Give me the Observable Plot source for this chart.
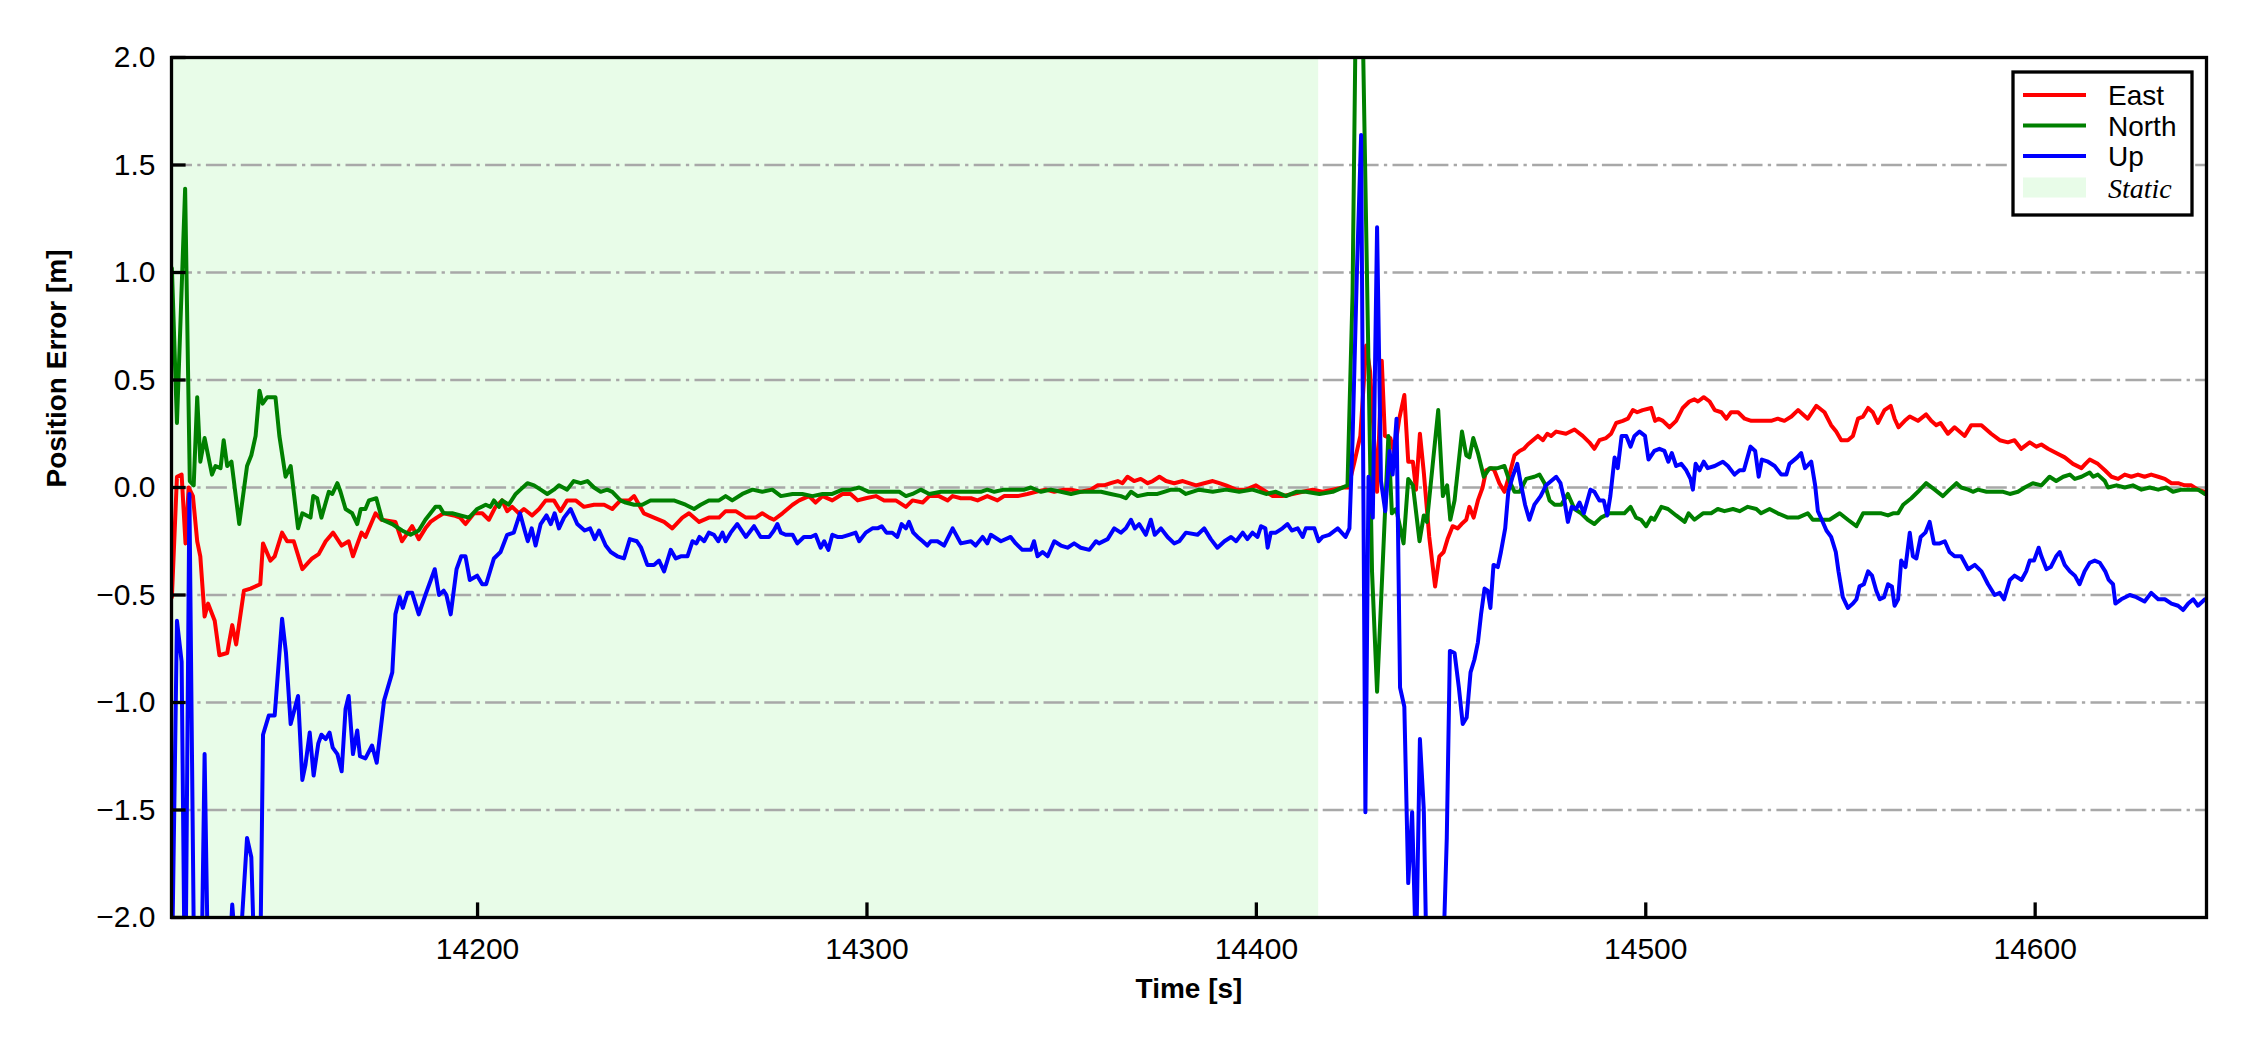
<!DOCTYPE html>
<html>
<head>
<meta charset="utf-8">
<script src="https://cdn.jsdelivr.net/npm/d3@7"></script>
<script src="https://cdn.jsdelivr.net/npm/@observablehq/plot@0.6"></script>
<style>
  html, body { margin: 0; padding: 0; background: #ffffff; }
  #chart { width: 2250px; height: 1050px; }
</style>
</head>
<body>
<div id="chart"></div>
<script>
// ---------------- data ----------------
const xDomain = [14121.4, 14644.0];
const yDomain = [-2, 2];
const xTicks = [14200, 14300, 14400, 14500, 14600];
const yTicks = [2.0, 1.5, 1.0, 0.5, 0.0, -0.5, -1.0, -1.5, -2.0];
const staticRegion = [{start: 14121.4, end: 14416.0}];
const legendLabels = ["East", "North", "Up", "Static"];
const seriesColors = ["#ff0000", "#008000", "#0000ff"];
const staticColor = "#e8fce8";

// [time s, error m]
const east = [
[14121.5,-0.51],[14122.8,0.05],[14124.0,0.06],[14125.0,-0.26],[14125.8,0.0],[14126.9,-0.04],[14128.0,-0.25],[14128.8,-0.32],[14129.9,-0.60],[14130.8,-0.54],[14132.5,-0.62],[14133.7,-0.78],[14135.7,-0.77],[14137.0,-0.64],[14138.0,-0.73],[14140.0,-0.48],[14141.7,-0.47],[14144.2,-0.45],[14144.9,-0.26],[14146.8,-0.34],[14147.9,-0.32],[14149.8,-0.21],[14151.1,-0.25],[14152.8,-0.25],[14155.0,-0.38],[14157.5,-0.33],[14159.2,-0.31],[14161.0,-0.25],[14162.9,-0.21],[14165.1,-0.27],[14166.9,-0.25],[14168.0,-0.32],[14170.2,-0.21],[14171.2,-0.23],[14173.8,-0.12],[14175.3,-0.15],[14178.9,-0.16],[14180.6,-0.25],[14183.2,-0.18],[14184.9,-0.24],[14186.6,-0.19],
[14187.9,-0.16],[14189.5,-0.14],[14191.3,-0.12],[14193.9,-0.13],[14195.5,-0.14],[14196.9,-0.17],[14199.1,-0.12],[14201.2,-0.12],[14202.9,-0.15],[14204.6,-0.09],[14206.3,-0.06],[14207.6,-0.11],[14208.9,-0.09],[14210.6,-0.12],[14211.9,-0.10],[14214.0,-0.13],[14215.8,-0.10],[14217.5,-0.06],[14219.6,-0.06],[14221.3,-0.11],[14223.0,-0.06],[14225.2,-0.06],[14227.3,-0.09],[14229.9,-0.08],[14232.5,-0.08],[14234.6,-0.10],[14236.7,-0.06],[14238.9,-0.06],[14240.2,-0.04],[14242.7,-0.12],[14245.3,-0.14],[14247.9,-0.16],[14250.0,-0.19],
[14252.6,-0.14],[14254.3,-0.12],[14256.9,-0.16],[14259.4,-0.14],[14262.0,-0.14],[14263.7,-0.11],[14266.3,-0.11],[14268.9,-0.14],[14271.4,-0.14],[14273.1,-0.12],[14274.9,-0.14],[14276.1,-0.15],[14278.3,-0.12],[14280.9,-0.08],[14282.6,-0.06],[14285.1,-0.04],[14286.8,-0.07],[14288.6,-0.04],[14291.1,-0.06],[14293.7,-0.03],[14295.8,-0.03],[14297.6,-0.06],[14299.7,-0.05],[14302.3,-0.04],[14304.4,-0.06],[14307.4,-0.06],[14310.0,-0.09],[14311.7,-0.06],[14314.3,-0.07],[14316.0,-0.04],
[14318.5,-0.04],[14320.7,-0.06],[14322.0,-0.04],[14324.1,-0.05],[14326.7,-0.05],[14328.4,-0.06],[14330.9,-0.04],[14333.5,-0.06],[14335.2,-0.04],[14338.7,-0.04],[14341.2,-0.03],[14343.4,-0.02],[14345.9,-0.01],[14348.1,-0.02],[14350.6,-0.01],[14352.4,-0.01],[14354.9,-0.02],[14357.5,-0.01],[14359.2,0.01],[14360.9,0.01],[14362.6,0.02],[14364.4,0.03],[14365.6,0.02],[14366.9,0.05],[14368.6,0.03],[14370.3,0.04],[14372.1,0.02],[14373.4,0.03],[14375.1,0.05],[14376.8,0.03],[14378.9,0.02],[14381.1,0.03],
[14384.5,0.01],[14386.6,0.02],[14388.8,0.03],[14390.5,0.02],[14392.2,0.01],[14394.8,-0.01],[14397.3,-0.01],[14399.9,0.01],[14402.5,-0.02],[14404.2,-0.04],[14406.7,-0.04],[14409.3,-0.03],[14411.9,-0.02],[14414.5,-0.01],[14417.0,-0.02],[14419.6,-0.01],[14422.2,0.0],[14423.6,0.0],
[14425.2,0.12],[14426.7,0.24],[14428.2,0.66],[14429.2,0.54],[14431.0,-0.02],[14432.2,0.59],[14433.0,0.24],[14434.4,0.23],[14435.4,0.16],[14436.7,0.32],[14438.0,0.43],[14439.0,0.12],[14440.2,0.12],[14441.0,-0.01],[14442.0,0.25],[14443.0,0.07],[14444.4,-0.23],[14445.9,-0.46],[14447.0,-0.32],[14448.1,-0.30],[14449.1,-0.24],[14450.4,-0.18],[14451.7,-0.19],[14452.7,-0.17],[14453.9,-0.15],[14454.7,-0.09],[14455.8,-0.14],[14456.9,-0.06],[14458.1,0.0],[14459.0,0.08],[14460.3,0.09],[14461.1,0.08],[14462.4,0.02],[14463.7,-0.02],[14465.0,0.06],[14466.3,0.15],[14467.6,0.17],[14468.7,0.18],[14469.7,0.20],[14471.0,0.22],[14472.3,0.24],[14473.6,0.22],[14474.7,0.25],[14475.7,0.24],[14477.0,0.26],
[14479.5,0.25],[14481.7,0.27],[14483.8,0.24],[14485.5,0.21],[14486.8,0.18],[14488.1,0.22],[14489.8,0.23],[14491.1,0.25],[14492.4,0.30],[14494.1,0.31],[14495.4,0.32],[14496.7,0.36],[14497.8,0.35],[14499.2,0.36],[14501.4,0.37],[14502.4,0.31],[14503.3,0.32],[14504.4,0.31],[14506.1,0.28],[14507.8,0.31],[14509.5,0.37],[14511.2,0.40],[14512.5,0.41],[14513.4,0.40],[14514.9,0.42],[14516.4,0.40],[14517.7,0.36],[14519.4,0.35],[14520.7,0.32],[14521.9,0.35],[14523.7,0.35],[14525.4,0.32],[14527.1,0.31],[14528.8,0.31],[14530.5,0.31],[14532.2,0.31],[14533.9,0.32],[14535.6,0.31],[14537.4,0.33],[14539.1,0.36],
[14541.6,0.32],[14543.8,0.38],[14545.9,0.35],[14547.6,0.29],[14548.9,0.26],[14550.2,0.22],[14551.9,0.22],[14553.2,0.24],[14554.5,0.32],[14555.8,0.33],[14557.1,0.37],[14558.3,0.35],[14559.6,0.30],[14561.3,0.36],[14562.9,0.38],[14563.9,0.32],[14564.9,0.28],[14566.5,0.31],[14567.8,0.33],[14569.9,0.31],[14572.0,0.34],[14573.3,0.31],[14574.6,0.29],[14575.7,0.30],[14577.6,0.25],[14579.3,0.28],[14581.9,0.24],[14583.6,0.29],[14586.2,0.29],[14588.7,0.25],[14590.9,0.22],
[14593.0,0.21],[14594.7,0.22],[14596.4,0.18],[14598.6,0.21],[14600.3,0.19],[14601.6,0.20],[14603.3,0.18],[14605.4,0.16],[14607.6,0.14],[14609.7,0.11],[14611.9,0.09],[14612.9,0.11],[14614.0,0.13],[14616.1,0.11],[14617.9,0.08],[14619.6,0.05],[14621.3,0.04],[14623.0,0.06],[14624.7,0.05],[14626.4,0.06],[14628.1,0.05],[14629.8,0.06],[14631.6,0.05],[14633.3,0.04],[14635.0,0.02],[14636.7,0.02],[14638.4,0.01],[14640.1,0.01],[14641.8,-0.01],[14643.6,-0.02]
];

const north = [
[14121.5,1.02],[14122.8,0.30],[14124.9,1.39],[14126.1,0.03],[14127.1,0.01],[14128.0,0.42],[14128.8,0.12],[14129.9,0.23],[14131.8,0.06],[14132.7,0.10],[14134.0,0.09],[14134.8,0.22],[14135.7,0.10],[14136.8,0.12],[14138.8,-0.17],[14140.8,0.10],[14141.9,0.15],[14143.0,0.24],[14144.0,0.45],[14144.8,0.39],[14146.0,0.42],[14148.1,0.42],[14149.1,0.24],[14150.7,0.05],[14152.0,0.10],[14153.9,-0.19],[14155.0,-0.12],[14157.1,-0.14],[14157.8,-0.04],[14158.8,-0.05],[14159.9,-0.14],[14161.8,-0.02],[14162.7,-0.03],[14164.0,0.02],[14164.8,-0.02],[14166.1,-0.10],[14167.8,-0.12],[14169.1,-0.17],[14170.0,-0.10],[14171.2,-0.10],[14172.1,-0.06],[14174.0,-0.05],[14175.5,-0.15],[14178.1,-0.17],[14180.6,-0.20],[14182.8,-0.22],[14184.9,-0.20],[14186.6,-0.15],
[14189.2,-0.09],[14190.3,-0.09],[14191.3,-0.12],[14193.5,-0.12],[14195.6,-0.13],[14197.8,-0.14],[14199.9,-0.10],[14202.1,-0.08],[14203.3,-0.09],[14204.2,-0.06],[14205.5,-0.09],[14206.3,-0.06],[14208.0,-0.08],[14209.8,-0.03],[14211.0,-0.01],[14212.8,0.02],[14214.5,0.01],[14216.2,-0.01],[14217.9,-0.03],[14219.6,-0.01],[14220.9,0.01],[14223.0,-0.01],[14224.7,0.03],[14226.5,0.02],[14228.2,0.03],[14229.9,0.00],[14231.6,-0.02],[14233.3,-0.01],[14234.6,-0.02],[14236.7,-0.06],[14238.0,-0.07],[14240.2,-0.08],[14242.3,-0.08],[14244.4,-0.06],[14247.0,-0.06],[14250.4,-0.06],
[14253.4,-0.08],[14255.6,-0.10],[14257.3,-0.08],[14259.4,-0.06],[14262.0,-0.06],[14263.7,-0.04],[14265.4,-0.06],[14268.0,-0.03],[14270.6,-0.01],[14273.1,-0.02],[14275.7,-0.01],[14277.9,-0.04],[14280.9,-0.03],[14283.4,-0.03],[14286.0,-0.04],[14288.6,-0.03],[14291.1,-0.03],[14293.7,-0.01],[14295.8,-0.01],[14298.0,0.00],[14300.5,-0.02],[14303.1,-0.02],[14305.7,-0.02],[14308.3,-0.02],[14310.0,-0.04],[14311.7,-0.03],[14313.8,-0.01],[14316.0,-0.03],
[14319.0,-0.02],[14321.5,-0.02],[14324.1,-0.02],[14326.7,-0.02],[14329.2,-0.02],[14330.9,-0.01],[14332.7,-0.02],[14335.2,-0.01],[14337.8,-0.01],[14340.4,-0.01],[14342.1,0.00],[14344.7,-0.02],[14347.2,-0.01],[14349.8,-0.02],[14352.4,-0.03],[14354.9,-0.02],[14357.5,-0.02],[14360.1,-0.02],[14362.6,-0.03],[14365.2,-0.04],[14366.5,-0.05],[14367.8,-0.02],[14369.5,-0.04],[14372.1,-0.03],[14374.6,-0.03],[14376.3,-0.02],[14378.1,-0.01],[14380.2,-0.01],[14381.9,-0.03],
[14385.3,-0.01],[14388.8,-0.02],[14392.2,-0.01],[14395.6,-0.02],[14399.0,-0.01],[14402.5,-0.03],[14405.0,-0.02],[14407.6,-0.04],[14410.2,-0.02],[14412.7,-0.02],[14416.2,-0.03],[14419.6,-0.02],[14423.4,0.01],[14424.7,0.90],[14425.7,2.50],[14426.7,2.80],[14429.7,-0.39],[14431.0,-0.95],[14433.9,0.24],[14434.8,-0.12],[14435.9,-0.10],[14437.8,-0.26],[14439.0,0.04],[14440.2,0.01],[14441.9,-0.25],[14443.0,-0.13],[14443.8,-0.16],[14445.3,0.11],[14446.7,0.36],[14447.9,-0.04],[14449.0,0.01],[14449.8,-0.15],[14450.9,-0.06],[14452.8,0.26],[14453.9,0.15],[14454.7,0.14],[14455.7,0.23],[14456.9,0.16],[14458.4,0.05],[14459.9,0.09],[14462.0,0.09],[14463.7,0.10],[14465.0,0.03],[14466.3,-0.02],[14467.6,-0.02],[14469.3,0.04],[14471.4,0.05],[14472.7,0.06],[14474.0,0.02],[14475.3,-0.06],[14476.6,-0.08],
[14478.3,-0.08],[14480.0,-0.03],[14481.7,-0.10],[14483.4,-0.12],[14485.1,-0.15],[14486.8,-0.17],[14488.5,-0.14],[14490.7,-0.12],[14492.8,-0.12],[14494.5,-0.12],[14496.1,-0.09],[14497.5,-0.14],[14498.8,-0.15],[14500.1,-0.18],[14501.4,-0.14],[14502.2,-0.15],[14504.0,-0.09],[14505.7,-0.10],[14507.8,-0.13],[14510.0,-0.16],[14511.0,-0.12],[14512.5,-0.15],[14514.7,-0.12],[14516.8,-0.12],[14518.5,-0.10],[14520.2,-0.11],[14522.4,-0.10],[14524.1,-0.11],[14526.2,-0.09],[14528.4,-0.10],[14529.6,-0.12],[14531.8,-0.10],[14533.9,-0.12],[14536.5,-0.14],[14539.1,-0.14],
[14541.6,-0.12],[14542.9,-0.15],[14545.1,-0.15],[14547.2,-0.15],[14549.8,-0.12],[14551.9,-0.15],[14554.1,-0.18],[14555.8,-0.12],[14557.9,-0.12],[14560.5,-0.12],[14562.2,-0.13],[14563.5,-0.12],[14564.8,-0.12],[14566.1,-0.08],[14568.2,-0.05],[14569.9,-0.02],[14572.0,0.02],[14574.2,-0.01],[14576.3,-0.04],[14578.0,-0.01],[14579.8,0.02],[14581.0,0.00],[14582.8,-0.01],[14584.0,-0.02],[14585.3,-0.01],[14587.5,-0.02],[14589.6,-0.02],[14591.8,-0.02],
[14593.5,-0.03],[14595.6,-0.02],[14597.3,0.00],[14599.4,0.02],[14601.6,0.01],[14603.7,0.05],[14605.4,0.03],[14607.2,0.05],[14608.9,0.06],[14610.2,0.04],[14611.9,0.05],[14614.0,0.07],[14614.9,0.05],[14616.1,0.06],[14617.9,0.03],[14618.7,0.00],[14620.9,0.01],[14623.0,0.00],[14625.1,0.01],[14627.3,-0.01],[14629.4,0.00],[14631.6,-0.01],[14633.7,0.00],[14635.4,-0.02],[14637.6,-0.01],[14640.1,-0.01],[14641.8,-0.01],[14643.6,-0.03]
];

const up = [
[14121.4,-2.4],[14122.8,-0.62],[14124.0,-0.81],[14124.9,-2.5],[14126.0,-0.03],[14127.4,-2.6],[14129.0,-2.4],[14129.9,-1.24],[14131.0,-2.5],[14133.0,-2.8],[14135.0,-2.6],[14137.0,-1.94],[14138.5,-2.3],[14140.8,-1.63],[14141.9,-1.72],[14143.0,-2.4],[14144.2,-2.2],[14144.9,-1.15],[14146.4,-1.06],[14147.9,-1.06],[14149.8,-0.61],[14150.8,-0.77],[14152.0,-1.10],[14153.9,-0.97],[14155.0,-1.36],[14155.8,-1.29],[14156.9,-1.14],[14157.9,-1.34],[14159.1,-1.19],[14159.9,-1.15],[14161.0,-1.17],[14162.0,-1.14],[14162.8,-1.21],[14164.0,-1.24],[14165.1,-1.32],[14166.1,-1.03],[14166.9,-0.97],[14168.0,-1.24],[14169.1,-1.13],[14169.8,-1.25],[14171.2,-1.26],[14172.9,-1.20],[14174.1,-1.28],[14176.0,-0.99],[14178.1,-0.86],[14178.9,-0.59],[14180.0,-0.51],[14180.8,-0.56],[14182.0,-0.49],[14183.2,-0.49],[14184.9,-0.59],[14186.6,-0.50],
[14189.0,-0.38],[14190.1,-0.50],[14191.3,-0.48],[14192.0,-0.50],[14193.1,-0.59],[14194.6,-0.38],[14195.8,-0.32],[14196.9,-0.32],[14198.0,-0.43],[14199.9,-0.41],[14201.2,-0.45],[14202.2,-0.45],[14204.2,-0.33],[14205.9,-0.30],[14207.6,-0.22],[14209.3,-0.21],[14210.9,-0.12],[14212.1,-0.20],[14212.9,-0.25],[14213.9,-0.19],[14214.9,-0.27],[14216.2,-0.17],[14217.7,-0.13],[14218.8,-0.17],[14219.8,-0.12],[14220.9,-0.19],[14222.2,-0.14],[14223.9,-0.10],[14225.6,-0.17],[14227.5,-0.20],[14228.9,-0.19],[14230.1,-0.24],[14231.2,-0.20],[14232.9,-0.27],[14234.2,-0.30],[14235.9,-0.32],[14237.6,-0.33],[14239.1,-0.24],[14240.9,-0.25],[14242.0,-0.28],[14243.6,-0.36],[14245.3,-0.36],[14246.6,-0.34],[14247.9,-0.39],[14249.6,-0.29],[14250.9,-0.33],
[14252.2,-0.32],[14253.9,-0.32],[14255.2,-0.25],[14256.2,-0.26],[14257.0,-0.23],[14258.2,-0.25],[14259.4,-0.21],[14260.7,-0.22],[14261.8,-0.25],[14262.9,-0.21],[14263.7,-0.25],[14265.0,-0.21],[14266.7,-0.17],[14268.9,-0.23],[14271.0,-0.18],[14272.7,-0.23],[14274.9,-0.23],[14276.1,-0.20],[14277.0,-0.17],[14277.9,-0.21],[14279.1,-0.22],[14280.9,-0.22],[14282.1,-0.26],[14283.8,-0.23],[14285.6,-0.23],[14286.8,-0.22],[14288.1,-0.28],[14289.0,-0.25],[14290.1,-0.29],[14291.1,-0.22],[14292.4,-0.23],[14293.7,-0.23],[14295.4,-0.22],[14297.1,-0.21],[14298.0,-0.25],[14299.7,-0.21],[14301.4,-0.19],[14302.7,-0.19],[14303.8,-0.18],[14305.0,-0.21],[14306.5,-0.21],[14307.8,-0.23],[14308.9,-0.17],[14310.0,-0.19],[14310.8,-0.16],[14311.9,-0.21],[14313.0,-0.23],[14314.3,-0.25],[14315.5,-0.27],[14316.4,-0.25],
[14318.1,-0.25],[14319.8,-0.27],[14322.0,-0.19],[14324.1,-0.26],[14326.7,-0.25],[14327.9,-0.27],[14329.7,-0.23],[14330.9,-0.26],[14331.8,-0.22],[14334.4,-0.25],[14336.9,-0.23],[14338.2,-0.26],[14339.9,-0.29],[14342.1,-0.29],[14342.9,-0.25],[14343.8,-0.32],[14345.1,-0.30],[14346.4,-0.32],[14348.1,-0.25],[14349.8,-0.27],[14351.5,-0.28],[14353.2,-0.26],[14354.9,-0.28],[14357.1,-0.29],[14358.8,-0.25],[14359.6,-0.26],[14361.8,-0.24],[14363.5,-0.19],[14365.2,-0.21],[14366.5,-0.19],[14367.8,-0.15],[14368.8,-0.19],[14369.9,-0.17],[14371.6,-0.22],[14372.9,-0.15],[14373.9,-0.22],[14375.5,-0.19],[14377.2,-0.23],[14378.9,-0.26],[14380.2,-0.25],[14381.9,-0.21],
[14384.9,-0.22],[14386.6,-0.19],[14388.3,-0.24],[14390.0,-0.28],[14391.8,-0.25],[14393.5,-0.23],[14394.8,-0.25],[14396.5,-0.21],[14397.7,-0.24],[14399.0,-0.21],[14400.3,-0.23],[14401.2,-0.18],[14402.3,-0.19],[14402.9,-0.28],[14403.7,-0.21],[14405.0,-0.21],[14406.7,-0.19],[14408.0,-0.17],[14409.1,-0.20],[14410.6,-0.19],[14411.9,-0.23],[14412.7,-0.19],[14414.9,-0.19],[14416.0,-0.25],[14417.0,-0.23],[14418.7,-0.22],[14420.9,-0.19],[14422.9,-0.23],[14423.9,-0.19],
[14424.7,0.22],[14425.8,0.99],[14426.9,1.64],[14428.0,-1.51],[14428.8,0.05],[14429.9,-0.14],[14431.0,1.21],[14432.0,0.03],[14433.1,-0.11],[14434.2,0.17],[14435.0,0.06],[14436.0,0.32],[14436.9,-0.93],[14438.0,-1.02],[14439.0,-1.84],[14440.0,-1.51],[14441.0,-2.2],[14442.0,-1.17],[14443.0,-1.50],[14443.8,-2.3],[14444.8,-2.6],[14445.8,-2.7],[14446.8,-2.5],[14447.8,-2.3],[14448.9,-1.63],[14449.7,-0.76],[14450.9,-0.77],[14452.0,-0.93],[14453.0,-1.10],[14454.0,-1.07],[14455.0,-0.86],[14456.0,-0.80],[14456.9,-0.72],[14457.7,-0.59],[14458.6,-0.47],[14459.4,-0.48],[14460.1,-0.56],[14460.9,-0.36],[14462.0,-0.37],[14462.8,-0.30],[14463.9,-0.19],[14464.7,-0.02],[14465.8,0.05],[14467.0,0.11],[14468.0,0.01],[14469.0,-0.08],[14470.1,-0.15],[14471.4,-0.08],[14473.0,-0.04],[14474.4,0.01],[14475.7,0.03],[14477.0,0.05],
[14478.1,0.02],[14479.1,-0.06],[14480.0,-0.16],[14481.0,-0.09],[14482.1,-0.10],[14483.0,-0.07],[14484.1,-0.12],[14485.8,-0.01],[14486.8,-0.02],[14488.1,-0.06],[14489.2,-0.06],[14490.1,-0.13],[14490.9,-0.04],[14492.0,0.14],[14492.8,0.09],[14493.8,0.24],[14495.0,0.24],[14496.1,0.19],[14497.1,0.24],[14498.4,0.26],[14499.8,0.24],[14500.7,0.13],[14502.2,0.17],[14503.5,0.18],[14504.8,0.17],[14505.8,0.12],[14506.7,0.16],[14507.8,0.10],[14509.1,0.11],[14510.4,0.08],[14511.5,0.04],[14512.1,-0.01],[14512.8,0.11],[14513.8,0.08],[14514.9,0.12],[14515.9,0.09],[14517.7,0.10],[14519.8,0.12],[14521.1,0.10],[14522.8,0.06],[14524.1,0.08],[14525.2,0.08],[14526.9,0.19],[14528.1,0.17],[14529.0,0.05],[14529.8,0.13],[14531.4,0.12],[14533.1,0.10],[14534.8,0.06],[14536.1,0.06],[14536.9,0.11],[14538.9,0.14],[14539.9,0.16],
[14540.9,0.09],[14542.5,0.12],[14543.5,0.01],[14544.2,-0.11],[14545.2,-0.15],[14546.4,-0.20],[14547.6,-0.23],[14548.8,-0.30],[14549.5,-0.39],[14550.6,-0.51],[14551.9,-0.56],[14553.2,-0.54],[14554.1,-0.52],[14554.9,-0.46],[14556.0,-0.45],[14557.1,-0.39],[14558.1,-0.41],[14559.2,-0.48],[14560.1,-0.52],[14561.2,-0.51],[14562.2,-0.45],[14563.2,-0.46],[14563.9,-0.55],[14564.8,-0.52],[14565.6,-0.34],[14566.7,-0.37],[14567.8,-0.21],[14568.6,-0.32],[14569.5,-0.33],[14570.6,-0.23],[14571.8,-0.21],[14572.9,-0.16],[14574.0,-0.26],[14575.5,-0.26],[14576.8,-0.25],[14578.0,-0.30],[14579.3,-0.32],[14581.0,-0.32],[14582.8,-0.38],[14584.5,-0.36],[14586.2,-0.39],[14587.9,-0.45],[14589.6,-0.50],[14590.9,-0.49],[14592.0,-0.52],[14593.5,-0.43],[14594.7,-0.41],[14596.5,-0.43],[14597.7,-0.39],[14598.6,-0.34],[14599.7,-0.34],[14600.9,-0.28],[14601.6,-0.32],[14602.9,-0.38],[14604.0,-0.37],[14605.4,-0.32],[14606.3,-0.30],
[14607.6,-0.36],[14608.9,-0.39],[14610.2,-0.41],[14611.4,-0.45],[14612.7,-0.39],[14614.0,-0.35],[14615.3,-0.34],[14616.6,-0.35],[14618.0,-0.39],[14618.9,-0.43],[14620.0,-0.45],[14620.6,-0.54],[14622.1,-0.52],[14624.3,-0.50],[14626.0,-0.51],[14628.1,-0.53],[14629.8,-0.49],[14631.6,-0.52],[14633.3,-0.52],[14635.0,-0.54],[14636.7,-0.55],[14638.0,-0.57],[14639.3,-0.54],[14640.6,-0.52],[14641.8,-0.55],[14643.6,-0.52]
];

// ---------------- chart ----------------
const W = 2250, H = 1050;
const mL = 171, mR = 44, mT = 57, mB = 133;
const innerW = W - mL - mR, innerH = H - mT - mB;
const tickLen = 14.6;
const fmtY = d => (d < 0 ? "\u2212" : "") + Math.abs(d).toFixed(1);
const seriesList = [east, north, up];

const chart = Plot.plot({
  width: W, height: H,
  marginLeft: mL, marginRight: mR, marginTop: mT, marginBottom: mB,
  style: {fontFamily: "'Liberation Sans', Arial, Helvetica, sans-serif", fontSize: "30px", background: "#ffffff", color: "#000000", overflow: "visible"},
  x: {domain: xDomain, label: null},
  y: {domain: yDomain, label: null},
  marks: [
    Plot.rect(staticRegion, {x1: "start", x2: "end", fill: staticColor}),
    Plot.ruleY(yTicks, {y: d => d, stroke: "#a8a8a8", strokeWidth: 2.6, strokeDasharray: "21,5.3,3.3,5.3"}),
    ...seriesList.map((s, i) => Plot.line(s, {x: d => d[0], y: d => d[1], stroke: seriesColors[i], strokeWidth: 4, clip: true, strokeLinejoin: "round"})),
    Plot.frame({stroke: "#000000", strokeWidth: 3.3}),
    Plot.tickX(xTicks, {x: d => d, insetTop: innerH - tickLen, stroke: "#000000", strokeWidth: 3.3}),
    Plot.tickY(yTicks, {y: d => d, insetRight: innerW - tickLen, stroke: "#000000", strokeWidth: 3.3}),
    Plot.axisX(xTicks, {tickSize: 0, tickPadding: 20, tickFormat: d => String(d), label: null, fontSize: 30}),
    Plot.axisY(yTicks, {tickSize: 0, tickPadding: 16, tickFormat: fmtY, label: null, fontSize: 30}),
    Plot.text(["Time [s]"], {text: d => d, frameAnchor: "bottom", dy: 80, fontWeight: "bold", fontSize: 28}),
    Plot.text(["Position Error [m]"], {text: d => d, frameAnchor: "left", dx: -114, rotate: -90, fontWeight: "bold", fontSize: 28})
  ]
});

document.getElementById("chart").appendChild(chart);

// ---------------- legend (inside the axes, top right) ----------------
const svg = d3.select(chart);
const lg = svg.append("g").attr("class", "legend").attr("text-anchor", "start");
const box = {x: 2013, y: 72, w: 179, h: 143};
lg.append("rect").attr("x", box.x).attr("y", box.y).attr("width", box.w).attr("height", box.h)
  .attr("fill", "#ffffff").attr("stroke", "#000000").attr("stroke-width", 3.3);
const rowY = [95, 125.5, 156, 187.5];
legendLabels.forEach((lab, i) => {
  const y = rowY[i];
  if (i < 3) {
    lg.append("line").attr("x1", 2023).attr("x2", 2086).attr("y1", y).attr("y2", y)
      .attr("stroke", seriesColors[i]).attr("stroke-width", 4);
  } else {
    lg.append("rect").attr("x", 2023).attr("y", y - 10).attr("width", 63).attr("height", 20).attr("fill", staticColor);
  }
  lg.append("text").attr("x", 2108).attr("y", y).attr("dy", "0.36em")
    .attr("text-anchor", "start")
    .attr("font-size", 28)
    .attr("font-family", i < 3 ? "'Liberation Sans', Arial, sans-serif" : "'Liberation Serif', 'Times New Roman', serif")
    .attr("font-style", i < 3 ? "normal" : "italic")
    .attr("fill", "#000000")
    .text(lab);
});
</script>
</body>
</html>
